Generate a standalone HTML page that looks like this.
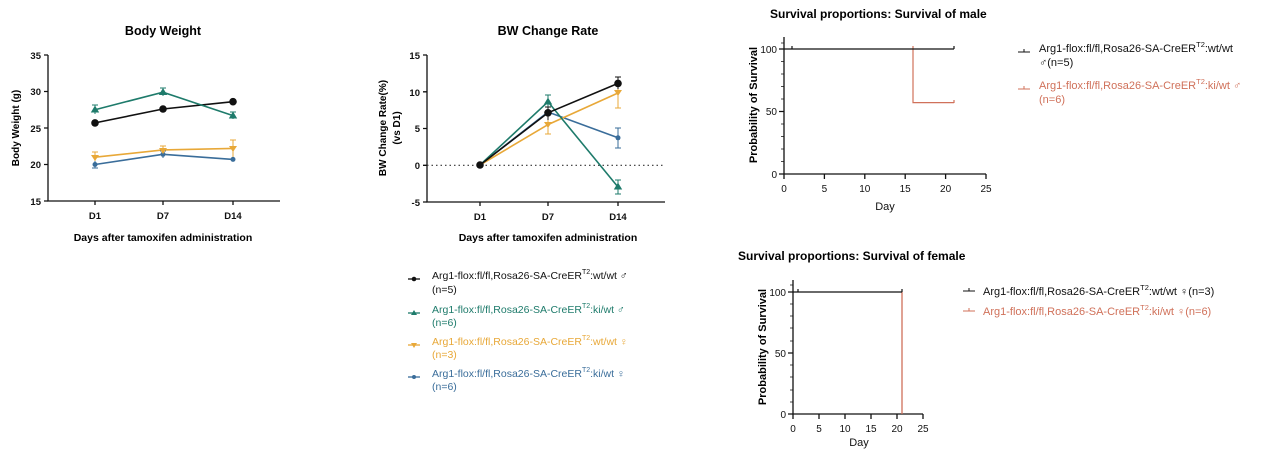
<!DOCTYPE html>
<html><head><style>
body{margin:0;background:#fff;}
svg{display:block;font-family:"Liberation Sans","DejaVu Sans",sans-serif;}
.b{font-weight:bold}
</style></head><body>
<svg width="1269" height="460" viewBox="0 0 1269 460">
<!-- Body Weight -->
<text x="163" y="35" text-anchor="middle" class="b" font-size="12.5">Body Weight</text>
<g stroke="#111" stroke-width="1.3" fill="none">
<path d="M48,55 V201 H280"/>
<path d="M44,55H48M44,91.5H48M44,128H48M44,164.5H48M44,201H48M95,201v4M163,201v4M233,201v4"/>
</g>
<g class="b" font-size="9.5" text-anchor="end" fill="#111">
<text x="41" y="59">35</text><text x="41" y="95">30</text><text x="41" y="132">25</text><text x="41" y="168">20</text><text x="41" y="205">15</text>
</g>
<g class="b" font-size="9.5" text-anchor="middle" fill="#111">
<text x="95" y="219">D1</text><text x="163" y="219">D7</text><text x="233" y="219">D14</text>
</g>
<text x="163" y="241" text-anchor="middle" class="b" font-size="10.5">Days after tamoxifen administration</text>
<text transform="translate(19,128) rotate(-90)" text-anchor="middle" class="b" font-size="10">Body Weight (g)</text>
<g fill="none" stroke-width="1.6">
<polyline stroke="#3a6d9a" points="95,164.5 163,154.3 233,159.4"/>
<polyline stroke="#e8a838" points="95,157.2 163,149.9 233,148.4"/>
<polyline stroke="#111" points="95,122.9 163,109 233,101.7"/>
<polyline stroke="#1e7b6b" points="95,109.75 163,92.2 233,115.6"/>
<path stroke="#1e7b6b" stroke-width="1" d="M95,105v9M92,105h6M163,88v8M160,88h6M233,112v7M230,112h6"/>
<path stroke="#e8a838" stroke-width="1" d="M95,152v10M92,152h6M163,146v8M160,146h6M233,140v17M230,140h6"/>
<path stroke="#3a6d9a" stroke-width="1" d="M95,161v7M92,168h6M163,151v7M160,151h6"/>
</g>
<g>
<circle cx="95" cy="164.5" r="2.5" fill="#3a6d9a"/><circle cx="163" cy="154.3" r="2.5" fill="#3a6d9a"/><circle cx="233" cy="159.4" r="2.5" fill="#3a6d9a"/>
<path fill="#e8a838" d="M91,155h8l-4,6zM159,148h8l-4,6zM229,146h8l-4,6z"/>
<circle cx="95" cy="122.9" r="3.8" fill="#111"/><circle cx="163" cy="109" r="3.8" fill="#111"/><circle cx="233" cy="101.7" r="3.8" fill="#111"/>
<path fill="#1e7b6b" d="M95,105.5l4.2,7h-8.4zM163,88l4.2,7h-8.4zM233,111.5l4.2,7h-8.4z"/>
</g>

<!-- BW Change Rate -->
<text x="548" y="35" text-anchor="middle" class="b" font-size="12.5">BW Change Rate</text>
<g stroke="#111" stroke-width="1.3" fill="none">
<path d="M427,55 V202 H665"/>
<path d="M423,55H427M423,91.8H427M423,128.5H427M423,165.3H427M423,202H427M480,202v4M548,202v4M618,202v4"/>
</g>
<path d="M427,165.3H665" stroke="#333" stroke-width="1.2" stroke-dasharray="1.5,3"/>
<g class="b" font-size="9.5" text-anchor="end" fill="#111">
<text x="420" y="59">15</text><text x="420" y="96">10</text><text x="420" y="132">5</text><text x="420" y="169">0</text><text x="420" y="206">-5</text>
</g>
<g class="b" font-size="9.5" text-anchor="middle" fill="#111">
<text x="480" y="220">D1</text><text x="548" y="220">D7</text><text x="618" y="220">D14</text>
</g>
<text x="548" y="241" text-anchor="middle" class="b" font-size="10.5">Days after tamoxifen administration</text>
<text transform="translate(386,128) rotate(-90)" text-anchor="middle" class="b" font-size="10">BW Change Rate(%)</text>
<text transform="translate(400,128) rotate(-90)" text-anchor="middle" class="b" font-size="10">(vs D1)</text>
<g fill="none" stroke-width="1.6">
<polyline stroke="#3a6d9a" points="480,165 548,112 618,137.8"/>
<polyline stroke="#e8a838" points="480,165 548,124.6 618,93"/>
<polyline stroke="#1e7b6b" points="480,165 548,101.8 618,187"/>
<polyline stroke="#111" points="480,165 548,112.8 618,83.4"/>
<path stroke="#3a6d9a" stroke-width="1" d="M618,128v20M615,128h6M615,148h6"/>
<path stroke="#e8a838" stroke-width="1" d="M548,118v16M545,134h6M618,86v22M615,108h6"/>
<path stroke="#1e7b6b" stroke-width="1" d="M548,95v14M545,95h6M618,180v14M615,180h6M615,194h6"/>
<path stroke="#111" stroke-width="1" d="M548,107v13M545,107h6M618,77v12M615,77h6"/>
</g>
<g>
<circle cx="618" cy="137.8" r="2.5" fill="#3a6d9a"/>
<path fill="#e8a838" d="M544,122h8l-4,6zM614,90h8l-4,6z"/>
<path fill="#1e7b6b" d="M548,97.5l4.2,7h-8.4zM618,182.5l4.2,7h-8.4z"/>
<circle cx="480" cy="165" r="3.8" fill="#111"/><circle cx="548" cy="112.8" r="3.8" fill="#111"/><circle cx="618" cy="83.4" r="3.8" fill="#111"/>
</g>
<!-- legend -->
<g font-size="10.5">
<path d="M408,279h12" stroke="#111" stroke-width="1.3"/><circle cx="414" cy="279" r="2.3" fill="#111"/>
<text x="432" y="279" fill="#111">Arg1-flox:fl/fl,Rosa26-SA-CreER<tspan font-size="7" dy="-5">T2</tspan><tspan dy="5">:wt/wt ♂</tspan></text>
<text x="432" y="293" fill="#111">(n=5)</text>
<path d="M408,313h12" stroke="#1e7b6b" stroke-width="1.3"/><path d="M414,310l3,5h-6z" fill="#1e7b6b"/>
<text x="432" y="313" fill="#1e7b6b">Arg1-flox:fl/fl,Rosa26-SA-CreER<tspan font-size="7" dy="-5">T2</tspan><tspan dy="5">:ki/wt ♂</tspan></text>
<text x="432" y="326" fill="#1e7b6b">(n=6)</text>
<path d="M408,345h12" stroke="#e8a838" stroke-width="1.3"/><path d="M411,343h6l-3,5z" fill="#e8a838"/>
<text x="432" y="345" fill="#e8a838">Arg1-flox:fl/fl,Rosa26-SA-CreER<tspan font-size="7" dy="-5">T2</tspan><tspan dy="5">:wt/wt ♀</tspan></text>
<text x="432" y="358" fill="#e8a838">(n=3)</text>
<path d="M408,377h12" stroke="#3a6d9a" stroke-width="1.3"/><circle cx="414" cy="377" r="2" fill="#3a6d9a"/>
<text x="432" y="377" fill="#3a6d9a">Arg1-flox:fl/fl,Rosa26-SA-CreER<tspan font-size="7" dy="-5">T2</tspan><tspan dy="5">:ki/wt ♀</tspan></text>
<text x="432" y="390" fill="#3a6d9a">(n=6)</text>
</g>

<!-- Survival male -->
<text x="770" y="18" class="b" font-size="12">Survival proportions: Survival of male</text>
<g stroke="#111" stroke-width="1.3" fill="none">
<path d="M784,37V174H986"/>
<path d="M779,49H784M779,111.5H784M779,174H784M784,174v5M824.4,174v5M864.8,174v5M905.2,174v5M945.6,174v5M986,174v5"/>
<path stroke-width="0.8" d="M781,61.5h3M781,74h3M781,86.5h3M781,99h3M781,124h3M781,136.5h3M781,149h3M781,161.5h3M781,43h3"/>
</g>
<g font-size="10" fill="#111">
<g text-anchor="end"><text x="777" y="53">100</text><text x="777" y="115">50</text><text x="777" y="178">0</text></g>
<g text-anchor="middle"><text x="784" y="192">0</text><text x="824.4" y="192">5</text><text x="864.8" y="192">10</text><text x="905.2" y="192">15</text><text x="945.6" y="192">20</text><text x="986" y="192">25</text></g>
<text x="885" y="210" text-anchor="middle" font-size="11">Day</text>
</g>
<text transform="translate(757,105) rotate(-90)" text-anchor="middle" class="b" font-size="11">Probability of Survival</text>
<path d="M913,49V102.6H954M913,46v3M954,100v3" stroke="#d0715a" stroke-width="1.2" fill="none"/>
<path d="M784,49H954M792,46v3M954,46v3" stroke="#111" stroke-width="1.2" fill="none"/>
<g font-size="11">
<path d="M1018,52h12M1024,49v3" stroke="#111" stroke-width="1"/>
<text x="1039" y="52" fill="#111">Arg1-flox:fl/fl,Rosa26-SA-CreER<tspan font-size="7.5" dy="-5">T2</tspan><tspan dy="5">:wt/wt</tspan></text>
<text x="1039" y="66" fill="#111">♂(n=5)</text>
<path d="M1018,89h12M1024,86v3" stroke="#d0715a" stroke-width="1"/>
<text x="1039" y="89" fill="#d0715a">Arg1-flox:fl/fl,Rosa26-SA-CreER<tspan font-size="7.5" dy="-5">T2</tspan><tspan dy="5">:ki/wt ♂</tspan></text>
<text x="1039" y="103" fill="#d0715a">(n=6)</text>
</g>

<!-- Survival female -->
<text x="738" y="260" class="b" font-size="12">Survival proportions: Survival of female</text>
<g stroke="#111" stroke-width="1.3" fill="none">
<path d="M793,280V414H923"/>
<path d="M788,292H793M788,353H793M788,414H793M793,414v5M819,414v5M845,414v5M871,414v5M897,414v5M923,414v5"/>
<path stroke-width="0.8" d="M790,304h3M790,316h3M790,328h3M790,341h3M790,365h3M790,377h3M790,390h3M790,402h3M790,285h3"/>
</g>
<g font-size="10" fill="#111">
<g text-anchor="end"><text x="786" y="296">100</text><text x="786" y="357">50</text><text x="786" y="418">0</text></g>
<g text-anchor="middle"><text x="793" y="432">0</text><text x="819" y="432">5</text><text x="845" y="432">10</text><text x="871" y="432">15</text><text x="897" y="432">20</text><text x="923" y="432">25</text></g>
<text x="859" y="446" text-anchor="middle" font-size="11">Day</text>
</g>
<text transform="translate(766,347) rotate(-90)" text-anchor="middle" class="b" font-size="11">Probability of Survival</text>
<path d="M902,292V414" stroke="#d0715a" stroke-width="1.3" fill="none"/>
<path d="M793,292H902M798,289v3M902,289v3" stroke="#111" stroke-width="1.2" fill="none"/>
<g font-size="11">
<path d="M963,291h12M969,288v3" stroke="#111" stroke-width="1"/>
<text x="983" y="295" fill="#111">Arg1-flox:fl/fl,Rosa26-SA-CreER<tspan font-size="7.5" dy="-5">T2</tspan><tspan dy="5">:wt/wt ♀(n=3)</tspan></text>
<path d="M963,311h12M969,308v3" stroke="#d0715a" stroke-width="1"/>
<text x="983" y="315" fill="#d0715a">Arg1-flox:fl/fl,Rosa26-SA-CreER<tspan font-size="7.5" dy="-5">T2</tspan><tspan dy="5">:ki/wt ♀(n=6)</tspan></text>
</g>
</svg>
</body></html>
